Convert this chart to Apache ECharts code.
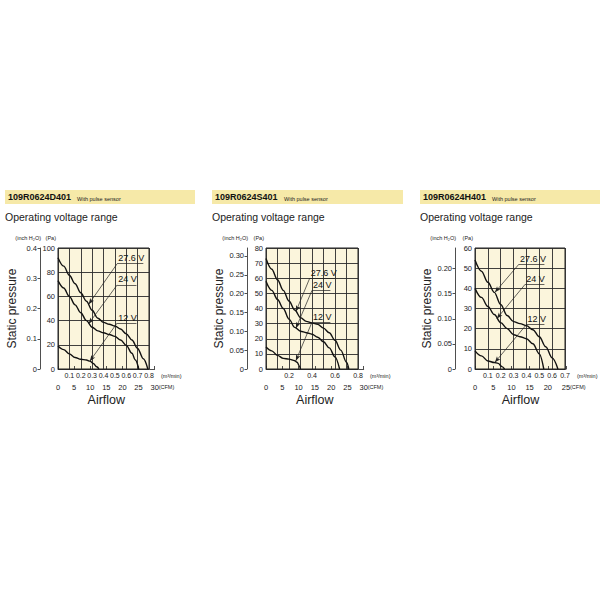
<!DOCTYPE html>
<html><head><meta charset="utf-8">
<script src="https://cdn.jsdelivr.net/npm/echarts@6/dist/echarts.min.js"></script>
<style>html,body{margin:0;padding:0;background:#fff}#c{width:600px;height:600px}</style>
</head><body><div id="c"></div>
<script>
// ---------- text ----------
const modelNames = ['109R0624D401', '109R0624S401', '109R0624H401'];
const modelNote = 'With pulse sensor';
const heading = 'Operating voltage range';
const voltages = ['27.6 V', '24 V', '12 V'];

// ---------- axis ranges ----------
const paMax = [100, 80, 60];
const paStep = [20, 10, 10];
const flowMax = [0.8, 0.8, 0.7];          // m3/min
const flowLabelStep = [0.1, 0.2, 0.1];
const inchStep = [0.1, 0.05, 0.05];
const inchDecimals = [1, 2, 2];
const cfmMax = [30, 30, 25];
const cfmStep = 5;

// ---------- curves (x: m3/min, y: Pa) ----------
const d401_276 = [[0,92],[0.05,85],[0.1,77.5],[0.15,70.5],[0.2,63],[0.25,56],[0.3,48.5],[0.35,42],[0.4,38.5],[0.45,37],[0.5,35.5],[0.55,33],[0.6,29],[0.65,24],[0.7,17],[0.75,8.5],[0.79,0]];
const d401_24  = [[0,73],[0.05,67],[0.1,60],[0.15,53],[0.2,46.5],[0.25,40],[0.3,34.5],[0.35,31.5],[0.4,30],[0.45,28.5],[0.5,27],[0.55,24],[0.6,19.5],[0.65,13],[0.68,7.5],[0.71,0]];
const d401_12  = [[0,19],[0.05,16],[0.1,12.5],[0.15,9.5],[0.2,8],[0.25,7.5],[0.28,6.5],[0.31,4.5],[0.34,1.8],[0.36,0]];

const s401_276 = [[0,73],[0.05,66],[0.1,59],[0.15,52],[0.2,45],[0.25,39],[0.3,34],[0.35,31.5],[0.4,30.5],[0.45,29.5],[0.5,27],[0.55,24],[0.6,19],[0.65,12.5],[0.7,4.5],[0.72,0]];
const s401_24  = [[0,58],[0.05,52],[0.1,46],[0.15,40],[0.2,33],[0.25,27.5],[0.3,25],[0.35,24],[0.4,23],[0.45,21],[0.5,18],[0.55,14],[0.6,8],[0.64,0]];
const s401_12  = [[0,14.5],[0.05,12],[0.1,9],[0.15,7],[0.2,6.5],[0.25,5.5],[0.27,4.5],[0.29,2],[0.3,0]];

const h401_276 = [[0,54],[0.05,48.5],[0.1,43],[0.15,38],[0.2,32],[0.25,26.5],[0.3,23.5],[0.35,22.5],[0.4,21.5],[0.45,19.5],[0.5,16],[0.55,11],[0.6,5.5],[0.645,0]];
const h401_24  = [[0,40],[0.05,35.5],[0.1,31],[0.15,27],[0.2,23],[0.25,20],[0.3,17],[0.35,16],[0.4,15],[0.45,12.5],[0.5,7.5],[0.535,0]];
const h401_12  = [[0,9],[0.05,6.5],[0.1,4],[0.15,3.2],[0.18,2.8],[0.21,1.2],[0.23,0]];

// ---------- annotations (data coords) ----------
// underline left end [x,y], underline right end x, arrow tip [x,y]
const d401_labelAt = [[0.52,87],[0.52,69.5],[0.52,38]];
const d401_labelEnd = [0.75,0.69,0.69];
const d401_arrowTo = [[0.27,53.5],[0.27,37.5],[0.28,6.5]];
const s401_labelAt = [[0.38,60],[0.4,52],[0.4,31]];
const s401_labelEnd = [0.6,0.56,0.56];
const s401_arrowTo = [[0.26,38],[0.26,27],[0.26,5.5]];
const h401_labelAt = [[0.342,52],[0.39,42],[0.4,22]];
const h401_labelEnd = [0.54,0.54,0.54];
const h401_arrowTo = [[0.155,38],[0.17,25],[0.155,3.3]];

const curves = [[d401_276,d401_24,d401_12],[s401_276,s401_24,s401_12],[h401_276,h401_24,h401_12]];
const labelAt = [d401_labelAt, s401_labelAt, h401_labelAt];
const labelEnd = [d401_labelEnd, s401_labelEnd, h401_labelEnd];
const arrowTo = [d401_arrowTo, s401_arrowTo, h401_arrowTo];

// ---------- layout ----------
const PA_PER_INCH = 249.1;
const CFM_PER_M3MIN = 35.3147;
const plotLeft = [58, 266, 475];
const plotWidth = [91, 92, 90];
const plotTop = 248, plotHeight = 121;
const inchOffset = [18, 19, 20];
const bandX = [5, 212, 420];
const bandW = [190, 191, 180];
const FONT = 'Liberation Sans, Arial, sans-serif';

const grid = [], xAxis = [], yAxis = [], series = [], graphic = [];
const near = (v, s) => Math.abs(v / s - Math.round(v / s)) < 1e-6;

for (let p = 0; p < 3; p++) {
  const gA = grid.length;
  grid.push({left: plotLeft[p], top: plotTop, width: plotWidth[p], height: plotHeight,
    show: true, backgroundColor: '#fbf5dc', borderColor: '#222', borderWidth: 1});
  const cfmW = plotWidth[p] * cfmMax[p] / (flowMax[p] * CFM_PER_M3MIN);
  const gB = grid.length;
  grid.push({left: plotLeft[p], top: plotTop, width: cfmW, height: plotHeight, show: false});

  // m3/min axis
  const xA = xAxis.length;
  xAxis.push({gridIndex: gA, type: 'value', min: 0, max: flowMax[p], interval: 0.1, position: 'bottom',
    axisLine: {show: false}, axisTick: {show: false},
    splitLine: {show: true, lineStyle: {color: '#2a2a2a', width: 0.9}},
    axisLabel: {margin: 3, fontSize: 7, color: '#222', fontFamily: FONT, showMaxLabel: true,
      formatter: v => (v > 0 && near(v, flowLabelStep[p])) ? v.toFixed(1) : ''},
    name: '(m³/min)', nameLocation: 'end', nameGap: 12,
    nameTextStyle: {fontSize: 5.5, color: '#222', fontFamily: FONT, verticalAlign: 'top', padding: [4, 0, 0, 0]}});
  // CFM axis
  xAxis.push({gridIndex: gB, type: 'value', min: 0, max: cfmMax[p], interval: cfmStep, position: 'bottom', offset: 11,
    axisLine: {show: true, lineStyle: {color: '#222', width: 0.8}},
    axisTick: {show: true, inside: true, length: 3, lineStyle: {color: '#222', width: 0.8}},
    splitLine: {show: false},
    axisLabel: {margin: 3, fontSize: 7.5, color: '#222', fontFamily: FONT},
    name: 'Airflow', nameLocation: 'middle', nameGap: 13,
    nameTextStyle: {fontSize: 12.5, color: '#222', fontFamily: FONT}});
  xAxis.push({gridIndex: gB, type: 'value', min: 0, max: cfmMax[p], position: 'bottom', offset: 11,
    axisLine: {show: false}, axisTick: {show: false}, axisLabel: {show: false}, splitLine: {show: false},
    name: '(CFM)', nameLocation: 'end', nameGap: 4,
    nameTextStyle: {fontSize: 5.5, color: '#222', fontFamily: FONT, verticalAlign: 'top', padding: [4, 0, 0, 0]}});

  // Pa axis
  const yA = yAxis.length;
  yAxis.push({gridIndex: gA, type: 'value', min: 0, max: paMax[p], interval: paStep[p],
    axisLine: {show: false}, axisTick: {show: false},
    splitLine: {show: true, lineStyle: {color: '#2a2a2a', width: 0.9}},
    axisLabel: {margin: 3, fontSize: 7.5, color: '#222', fontFamily: FONT},
    name: '(Pa)', nameLocation: 'end', nameGap: 7,
    nameTextStyle: {fontSize: 5.5, color: '#222', fontFamily: FONT, align: 'right', padding: [0, 2, 0, 0]}});
  // inch H2O axis
  yAxis.push({gridIndex: gA, type: 'value', min: 0, max: paMax[p] / PA_PER_INCH, interval: inchStep[p],
    position: 'left', offset: inchOffset[p],
    axisLine: {show: true, lineStyle: {color: '#222', width: 0.8}},
    axisTick: {show: true, length: 2.5, lineStyle: {color: '#222', width: 0.8}},
    splitLine: {show: false},
    axisLabel: {margin: 3, fontSize: 7.5, color: '#222', fontFamily: FONT, showMaxLabel: false,
      formatter: v => v === 0 ? '0' : (near(v, inchStep[p]) ? v.toFixed(inchDecimals[p]) : '')},
    name: '(inch H₂O)', nameLocation: 'end', nameGap: 7,
    nameTextStyle: {fontSize: 5.5, color: '#222', fontFamily: FONT, align: 'right', padding: [0, -1, 0, 0]}});
  yAxis.push({gridIndex: gA, type: 'value', min: 0, max: paMax[p], position: 'left', offset: inchOffset[p],
    axisLine: {show: false}, axisTick: {show: false}, axisLabel: {show: false}, splitLine: {show: false},
    name: 'Static pressure', nameLocation: 'middle', nameRotate: 90, nameGap: 22,
    nameTextStyle: {fontSize: 12, color: '#222', fontFamily: FONT}});
  // hidden y axis for CFM grid
  yAxis.push({gridIndex: gB, type: 'value', min: 0, max: 1, show: false});

  for (let k = 0; k < 3; k++) {
    const [lx, ly] = labelAt[p][k];
    series.push({
      type: 'line', name: voltages[k], xAxisIndex: xA, yAxisIndex: yA,
      data: curves[p][k], smooth: 0.35, smoothMonotone: 'x', showSymbol: false, silent: true,
      lineStyle: {color: '#111', width: 1.4}, animation: false,
      markLine: {
        silent: true, animation: false, symbol: ['none', 'none'],
        lineStyle: {color: '#222', width: 0.7, type: 'solid'},
        label: {show: false},
        data: [
          [{coord: [lx, ly], label: {show: true, formatter: voltages[k], position: 'insideStartTop',
              distance: 1, fontSize: 9, color: '#111', fontFamily: FONT}},
           {coord: [labelEnd[p][k], ly]}],
          [{coord: [lx, ly], symbol: 'none'},
           {coord: arrowTo[p][k], symbol: 'arrow', symbolSize: [3.5, 6]}]
        ]
      }
    });
  }

  // header band & texts
  graphic.push({type: 'rect', left: bandX[p], top: 190, shape: {width: bandW[p], height: 14},
    style: {fill: '#f6e9a8'}, silent: true});
  graphic.push({type: 'text', left: bandX[p] + 3, top: 192.5,
    style: {text: modelNames[p], fontSize: 9, fontWeight: 'bold', fill: '#111', fontFamily: FONT}});
  graphic.push({type: 'text', left: bandX[p] + 72, top: 195.5,
    style: {text: modelNote, fontSize: 5.5, fill: '#222', fontFamily: FONT}});
  graphic.push({type: 'text', left: bandX[p], top: 211,
    style: {text: heading, fontSize: 10.5, fill: '#222', fontFamily: FONT}});
}

const chart = echarts.init(document.getElementById('c'), null, {renderer: 'svg'});
chart.setOption({backgroundColor: '#fff', animation: false, grid, xAxis, yAxis, series, graphic});
</script></body></html>
